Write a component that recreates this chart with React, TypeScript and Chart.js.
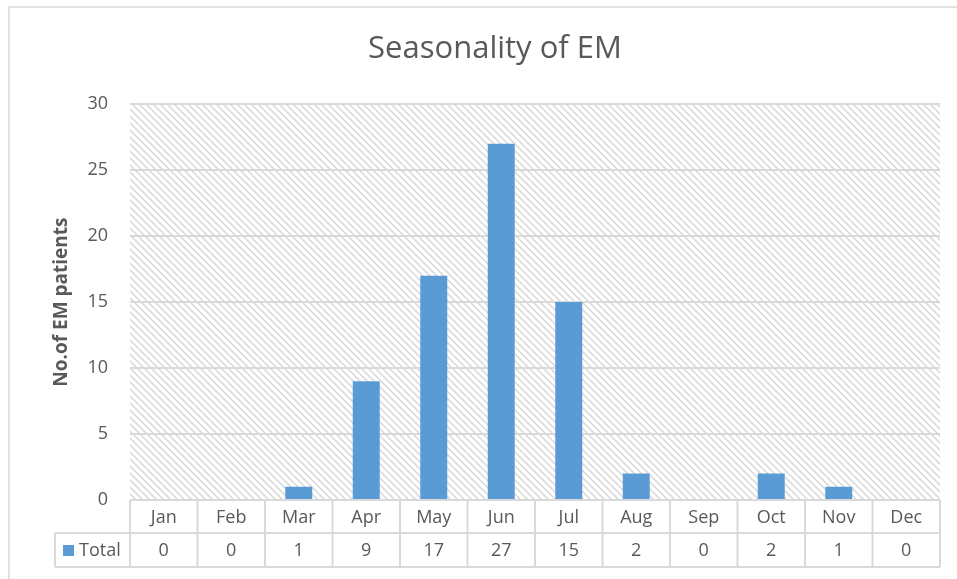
import React, { useEffect, useRef } from "react";
import { Chart, registerables } from "chart.js";

Chart.register(...registerables);

const months = ["Jan", "Feb", "Mar", "Apr", "May", "Jun", "Jul", "Aug", "Sep", "Oct", "Nov", "Dec"];
const totals = [0, 0, 1, 9, 17, 27, 15, 2, 0, 2, 1, 0];
const seriesName = "Total";
const chartTitle = "Seasonality of EM";
const yTitle = "No.of EM patients";

const FONT = "'Open Sans', 'Noto Sans', sans-serif";
const TXT = "#595959";
const LINE = "#d9d9d9";
const BAR = "#5B9BD5";

function makeHatch(ctx: CanvasRenderingContext2D) {
  const s = 7;
  const c = document.createElement("canvas");
  c.width = s;
  c.height = s;
  const g = c.getContext("2d")!;
  g.fillStyle = "#ffffff";
  g.fillRect(0, 0, s, s);
  g.strokeStyle = "#d6d6d6";
  g.lineWidth = 1.4;
  g.beginPath();
  g.moveTo(-1, -1);
  g.lineTo(s + 1, s + 1);
  g.moveTo(-1, s - 1);
  g.lineTo(1, s + 1);
  g.moveTo(s - 1, -1);
  g.lineTo(s + 1, 1);
  g.stroke();
  return ctx.createPattern(c, "repeat");
}

const frameAndTable = {
  id: "frameAndTable",
  beforeDraw(chart: any) {
    const { ctx, chartArea } = chart;
    ctx.save();
    ctx.fillStyle = "#ffffff";
    ctx.fillRect(0, 0, chart.width, chart.height);
    ctx.strokeStyle = LINE;
    ctx.lineWidth = 1.5;
    ctx.beginPath();
    ctx.moveTo(9, chart.height + 2);
    ctx.lineTo(9, 7);
    ctx.lineTo(chart.width + 2, 7);
    ctx.stroke();
    const pat = makeHatch(ctx);
    if (pat) {
      ctx.fillStyle = pat;
      ctx.fillRect(chartArea.left, chartArea.top, chartArea.right - chartArea.left, chartArea.bottom - chartArea.top);
    }
    ctx.restore();
  },
  afterDraw(chart: any) {
    const { ctx, chartArea } = chart;
    const xs = chart.scales.x;
    const n = months.length;
    const step = (chartArea.right - chartArea.left) / n;
    const top = chartArea.bottom;
    const mid = top + 33;
    const bot = top + 67;
    const legLeft = 55;
    ctx.save();
    ctx.strokeStyle = LINE;
    ctx.lineWidth = 2;
    ctx.beginPath();
    ctx.moveTo(chartArea.left, top);
    ctx.lineTo(chartArea.right, top);
    ctx.moveTo(legLeft, mid);
    ctx.lineTo(chartArea.right, mid);
    ctx.moveTo(legLeft, bot);
    ctx.lineTo(chartArea.right, bot);
    ctx.moveTo(legLeft, mid);
    ctx.lineTo(legLeft, bot);
    for (let i = 0; i <= n; i++) {
      const x = chartArea.left + i * step;
      ctx.moveTo(x, top);
      ctx.lineTo(x, bot);
    }
    ctx.stroke();

    ctx.fillStyle = TXT;
    ctx.font = `18px ${FONT}`;
    ctx.textAlign = "center";
    ctx.textBaseline = "middle";
    for (let i = 0; i < n; i++) {
      const cx = xs.getPixelForValue(i);
      ctx.fillText(months[i], cx, (top + mid) / 2 + 1);
      ctx.fillText(String(totals[i]), cx, (mid + bot) / 2 + 1);
    }
    ctx.fillStyle = BAR;
    ctx.fillRect(63, (mid + bot) / 2 - 5, 11, 11);
    ctx.fillStyle = TXT;
    ctx.textAlign = "left";
    ctx.fillText(seriesName, 79, (mid + bot) / 2 + 1);
    ctx.restore();
  },
};

export default function App() {
  const ref = useRef<HTMLCanvasElement>(null);
  useEffect(() => {
    document.body.style.margin = "0";
    const chart = new Chart(ref.current!, {
      type: "bar",
      data: {
        labels: months,
        datasets: [
          {
            label: seriesName,
            data: totals,
            backgroundColor: BAR,
            borderWidth: 0,
            barPercentage: 0.4,
            categoryPercentage: 1,
          },
        ],
      },
      options: {
        animation: false,
        responsive: false,
        layout: { padding: { left: 50, right: 17, top: 0, bottom: 79 } },
        plugins: {
          legend: { display: false },
          tooltip: { enabled: false },
          title: {
            display: true,
            text: chartTitle,
            color: TXT,
            font: { family: FONT, size: 31, weight: "normal" },
            padding: { top: 31, bottom: 36 },
          },
        },
        scales: {
          x: {
            grid: { display: false },
            border: { display: false },
            ticks: { display: false },
            afterFit: (s: any) => {
              s.height = 0;
            },
          },
          y: {
            min: 0,
            max: 30,
            afterFit: (s: any) => {
              s.width = 80;
            },
            ticks: { stepSize: 5, color: TXT, padding: 22, font: { family: FONT, size: 18 } },
            grid: { color: LINE, lineWidth: 2, drawTicks: false },
            border: { display: false },
            title: {
              display: true,
              text: yTitle,
              color: TXT,
              padding: 0,
              font: { family: FONT, size: 19, weight: "bold" },
            },
          },
        },
      },
      plugins: [frameAndTable],
    });
    return () => chart.destroy();
  }, []);
  return <canvas ref={ref} width={957} height={579} style={{ display: "block" }} />;
}
